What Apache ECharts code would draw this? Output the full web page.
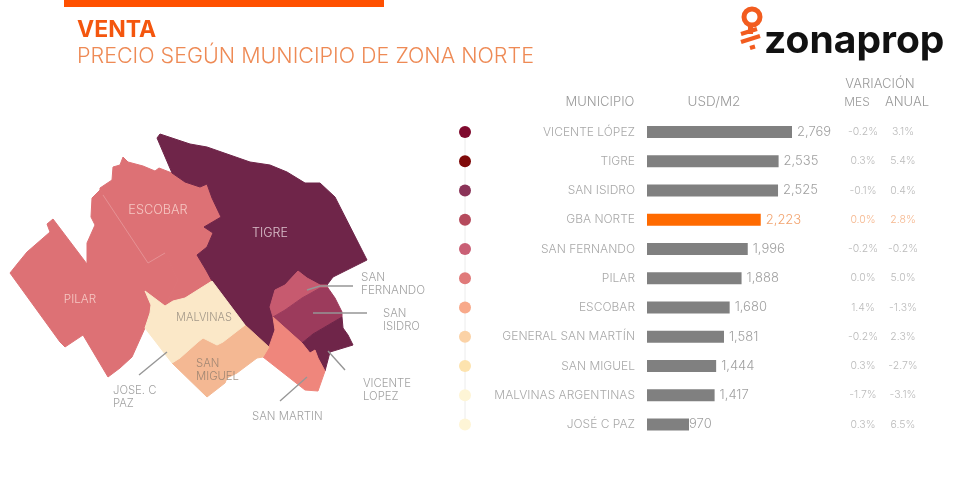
<!DOCTYPE html>
<html>
<head>
<meta charset="utf-8">
<title>Venta - Precio según municipio de Zona Norte</title>
<script src="https://cdn.jsdelivr.net/npm/echarts@6/dist/echarts.min.js"></script>
<style>
  html, body { margin: 0; padding: 0; background: #fff; }
  #chart { width: 975px; height: 494px; }
</style>
</head>
<body>
<div id="chart"></div>
<script>
// table data
const municipios = ['VICENTE LÓPEZ', 'TIGRE', 'SAN ISIDRO', 'GBA NORTE', 'SAN FERNANDO', 'PILAR', 'ESCOBAR', 'GENERAL SAN MARTÍN', 'SAN MIGUEL', 'MALVINAS ARGENTINAS', 'JOSÉ C PAZ'];
const usdM2 = [2769, 2535, 2525, 2223, 1996, 1888, 1680, 1581, 1444, 1417, 970];
const varMes = ['-0.2%', '0.3%', '-0.1%', '0.0%', '-0.2%', '0.0%', '1.4%', '-0.2%', '0.3%', '-1.7%', '0.3%'];
const varAnual = ['3.1%', '5.4%', '0.4%', '2.8%', '-0.2%', '5.0%', '-1.3%', '2.3%', '-2.7%', '-3.1%', '6.5%'];
const dotColors = ['#7f0a2e', '#7f0a0a', '#8a3358', '#b54a5c', '#c95f75', '#e07a7a', '#f8a98a', '#fbd2a6', '#fde3ae', '#fef5d6', '#fef5d6'];

// map outlines
const pilar = [[10,273],[18,263],[27,252],[50,232],[47,224],[53,219],[87,264],[87,243],[95,225],[91,217],[92,198],[100,190],[148,263],[165,253],[178,280],[165,306],[145,291],[151,305],[150,313],[145,328],[132,357],[120,368],[108,377],[83,335],[65,347],[60,342]];
const escobar = [[100,190],[100,188],[112,180],[113,167],[120,165],[123,157],[128,162],[143,166],[155,171],[159,168],[172,173],[185,182],[200,187],[207,184],[212,198],[221,217],[204,227],[213,233],[207,247],[197,255],[206,270],[212,281],[185,298],[173,301],[165,306],[178,280],[165,253],[148,263]];
const tigre = [[157,138],[160,134],[190,144],[207,147],[250,162],[270,165],[287,172],[305,183],[320,183],[335,197],[367,260],[333,277],[327,285],[320,285],[307,278],[298,271],[285,285],[275,290],[270,307],[273,317],[275,330],[269,347],[245,325],[212,281],[206,270],[197,255],[207,247],[213,233],[204,227],[221,217],[212,198],[207,184],[200,187],[185,182],[172,173],[163,152]];
const sanFernando = [[298,271],[307,278],[320,285],[327,285],[328,288],[320,288],[302,298],[285,310],[273,317],[270,307],[275,290],[285,285]];
const sanIsidro = [[273,317],[285,310],[302,298],[320,288],[328,288],[335,298],[342,312],[342,317],[313,334],[302,343]];
const vicenteLopez = [[302,343],[313,334],[342,317],[343,328],[348,335],[353,345],[330,352],[325,371],[318,358],[315,350],[310,353]];
const sanMartin = [[273,317],[302,343],[310,353],[315,350],[318,358],[325,371],[318,391],[305,390],[263,357],[269,347],[275,330]];
const sanMiguel = [[172,363],[180,358],[198,342],[203,338],[217,345],[223,342],[245,325],[269,347],[263,357],[257,358],[237,373],[227,378],[225,383],[207,397]];
const malvinas = [[145,291],[165,306],[173,301],[185,298],[212,281],[245,325],[223,342],[217,345],[203,338],[198,342],[180,358],[172,363],[145,328],[150,313],[151,305]];

const mapRegions = [
  ['Pilar', pilar, '#dd7175'],
  ['Escobar', escobar, '#dd7175'],
  ['Tigre', tigre, '#6f2549'],
  ['San Fernando', sanFernando, '#c75a6f'],
  ['San Isidro', sanIsidro, '#9c3b5c'],
  ['Vicente Lopez', vicenteLopez, '#6f2549'],
  ['San Martin', sanMartin, '#ef867c'],
  ['San Miguel', sanMiguel, '#f4b893'],
  ['Malvinas', malvinas, '#fbe8c8'],
];

// labels and callouts on the map
const mapLabelTexts = ['ESCOBAR', 'TIGRE', 'PILAR', 'MALVINAS', 'SAN\nMIGUEL', 'SAN\nFERNANDO', 'SAN\nISIDRO', 'JOSE. C\nPAZ', 'VICENTE\nLOPEZ', 'SAN MARTIN'];
const mapLabelStyle = [
  [158, 210, '#fbdcd6', 'center', 12.7],
  [270, 233, '#f3e3e8', 'center', 12.5],
  [80, 299, '#fbdcd6', 'center', 11.7],
  [204, 318, '#8c8378', 'center', 11],
  [196, 370, '#8c7a6c', 'left', 11.3],
  [361, 284, '#8a8a8a', 'left', 11.7],
  [383, 320, '#8a8a8a', 'left', 11.3],
  [113, 397, '#8a8a8a', 'left', 11.3],
  [363, 390, '#8a8a8a', 'left', 11.3],
  [252, 417, '#8a8a8a', 'left', 11.4],
];
const callouts = [
  [[307,290],[320,286],[353,286]],
  [[313,313],[367,313]],
  [[328,351],[345,370]],
  [[307,377],[280,401]],
  [[167,352],[139,375]],
];
const pilarEscobarLine = [[103,195],[148,263],[165,253]];

const FONT = 'Inter, "Noto Sans", sans-serif';
const GREY = '#a9a9a9';
const ORANGE_TEXT = '#f2a36e';
const HIGHLIGHT = 'GBA NORTE';

echarts.registerMap('zonaNorte', {
  type: 'FeatureCollection',
  features: mapRegions.map(([name, outline]) => ({
    type: 'Feature',
    properties: { name },
    geometry: { type: 'Polygon', coordinates: [outline.concat([outline[0]])] },
  })),
});

const chart = echarts.init(document.getElementById('chart'));

const headerText = (x, y, text, size) => ({
  type: 'text',
  x, y,
  silent: true,
  style: { text, fill: '#9a9a9a', font: '300 ' + size + 'px ' + FONT, align: 'center', verticalAlign: 'middle' },
});

const rowTop = 117.4;
const rowsHeight = 321.75;

chart.setOption({
  animation: false,
  backgroundColor: '#fff',
  textStyle: { fontFamily: FONT },
  geo: {
    map: 'zonaNorte',
    projection: { project: p => p, unproject: p => p },
    boundingCoords: [[0, 0], [975, 494]],
    left: 0, top: 0, width: 975, height: 494,
    roam: false,
    silent: true,
    label: { show: false },
    itemStyle: { borderWidth: 0 },
    regions: mapRegions.map(([name, , color]) => ({
      name,
      itemStyle: { areaColor: color, borderColor: color, borderWidth: 1 },
    })),
  },
  grid: [
    { left: 647, width: 145, top: rowTop, height: rowsHeight },
    { left: 465, width: 10, top: rowTop, height: rowsHeight },
    { left: 863, width: 40, top: rowTop, height: rowsHeight },
  ],
  xAxis: [
    { gridIndex: 0, type: 'value', min: 236, max: 2769, show: false },
    { gridIndex: 1, type: 'value', min: 0, max: 1, show: false },
    { gridIndex: 2, type: 'value', min: 0, max: 1, show: false },
  ],
  yAxis: [
    {
      gridIndex: 0, type: 'category', data: municipios, inverse: true,
      axisLine: { show: false }, axisTick: { show: false },
      axisLabel: { color: GREY, fontFamily: FONT, fontWeight: 300, fontSize: 12, margin: 12 },
    },
    { gridIndex: 1, type: 'category', data: municipios, inverse: true, show: false },
    { gridIndex: 2, type: 'category', data: municipios, inverse: true, show: false },
  ],
  series: [
    {
      type: 'bar',
      xAxisIndex: 0, yAxisIndex: 0,
      barWidth: 12,
      silent: true,
      data: usdM2.map((v, i) => ({
        value: v,
        itemStyle: { color: municipios[i] === HIGHLIGHT ? '#ff6a00' : '#808080' },
        label: {
          color: municipios[i] === HIGHLIGHT ? ORANGE_TEXT : '#a0a0a0',
          distance: v < 1000 ? 0 : 5,
        },
      })),
      label: {
        show: true,
        position: 'right',
        fontFamily: FONT,
        fontWeight: 300,
        fontSize: 13,
        formatter: p => p.value.toLocaleString('en-US'),
      },
    },
    {
      type: 'line',
      xAxisIndex: 1, yAxisIndex: 1,
      silent: true,
      symbol: 'circle',
      symbolSize: 12,
      showSymbol: true,
      lineStyle: { color: '#ececec', width: 1 },
      data: municipios.map((m, i) => ({ value: [0, m], itemStyle: { color: dotColors[i] } })),
    },
    ...[varMes, varAnual].map((col, c) => ({
      type: 'scatter',
      xAxisIndex: 2, yAxisIndex: 2,
      silent: true,
      symbolSize: 0,
      data: col.map((t, i) => ({
        value: [c, municipios[i]],
        label: { formatter: t, color: municipios[i] === HIGHLIGHT ? ORANGE_TEXT : GREY },
      })),
      label: { show: true, position: 'inside', fontFamily: FONT, fontWeight: 300, fontSize: 10.5 },
    })),
    {
      type: 'lines',
      coordinateSystem: 'geo',
      polyline: true,
      silent: true,
      lineStyle: { color: '#969696', width: 1.4, opacity: 1 },
      data: callouts.map(coords => ({ coords })),
    },
    {
      type: 'lines',
      coordinateSystem: 'geo',
      polyline: true,
      silent: true,
      lineStyle: { color: '#e69194', width: 1, opacity: 1 },
      data: [{ coords: pilarEscobarLine }],
    },
    {
      type: 'scatter',
      coordinateSystem: 'geo',
      silent: true,
      symbolSize: 0,
      data: mapLabelTexts.map((text, i) => {
        const [x, y, color, align, fontSize] = mapLabelStyle[i];
        return {
          value: [x, y],
          label: { formatter: text, color, align, fontSize, position: 'inside', verticalAlign: 'middle' },
        };
      }),
      label: { show: true, fontFamily: FONT, fontWeight: 300, lineHeight: 13 },
    },
  ],
  graphic: [
    { type: 'rect', shape: { x: 64, y: 0, width: 320, height: 7 }, style: { fill: '#ff5000' }, silent: true },
    { type: 'text', x: 77, y: 30, silent: true, style: { text: 'VENTA', fill: '#f4560e', font: '700 23px ' + FONT, verticalAlign: 'middle' } },
    { type: 'text', x: 77, y: 57, silent: true, style: { text: 'PRECIO SEGÚN MUNICIPIO DE ZONA NORTE', fill: '#ee8a55', font: '300 21.5px ' + FONT, verticalAlign: 'middle' } },
    headerText(600, 102, 'MUNICIPIO', 13),
    headerText(714, 102, 'USD/M2', 13.5),
    headerText(880, 84, 'VARIACIÓN', 13),
    headerText(857, 102, 'MES', 12),
    headerText(907, 102, 'ANUAL', 13),
    // logo
    { type: 'ring', shape: { cx: 752, cy: 17, r: 10.5, r0: 5.5 }, style: { fill: '#f25c1f' }, silent: true },
    { type: 'rect', shape: { x: 748, y: 25, width: 5, height: 9 }, style: { fill: '#f25c1f' }, silent: true },
    { type: 'polyline', shape: { points: [[741, 34], [757, 29]] }, style: { stroke: '#f25c1f', lineWidth: 4, fill: null }, silent: true },
    { type: 'polyline', shape: { points: [[741, 42], [760, 36]] }, style: { stroke: '#f25c1f', lineWidth: 4, fill: null }, silent: true },
    { type: 'polyline', shape: { points: [[750, 48], [755, 46.5]] }, style: { stroke: '#f25c1f', lineWidth: 4, fill: null }, silent: true },
    { type: 'text', x: 764, y: 41, silent: true, style: { text: 'zonaprop', fill: '#111', font: '700 39px ' + FONT, verticalAlign: 'middle' } },
  ],
});
</script>
</body>
</html>
